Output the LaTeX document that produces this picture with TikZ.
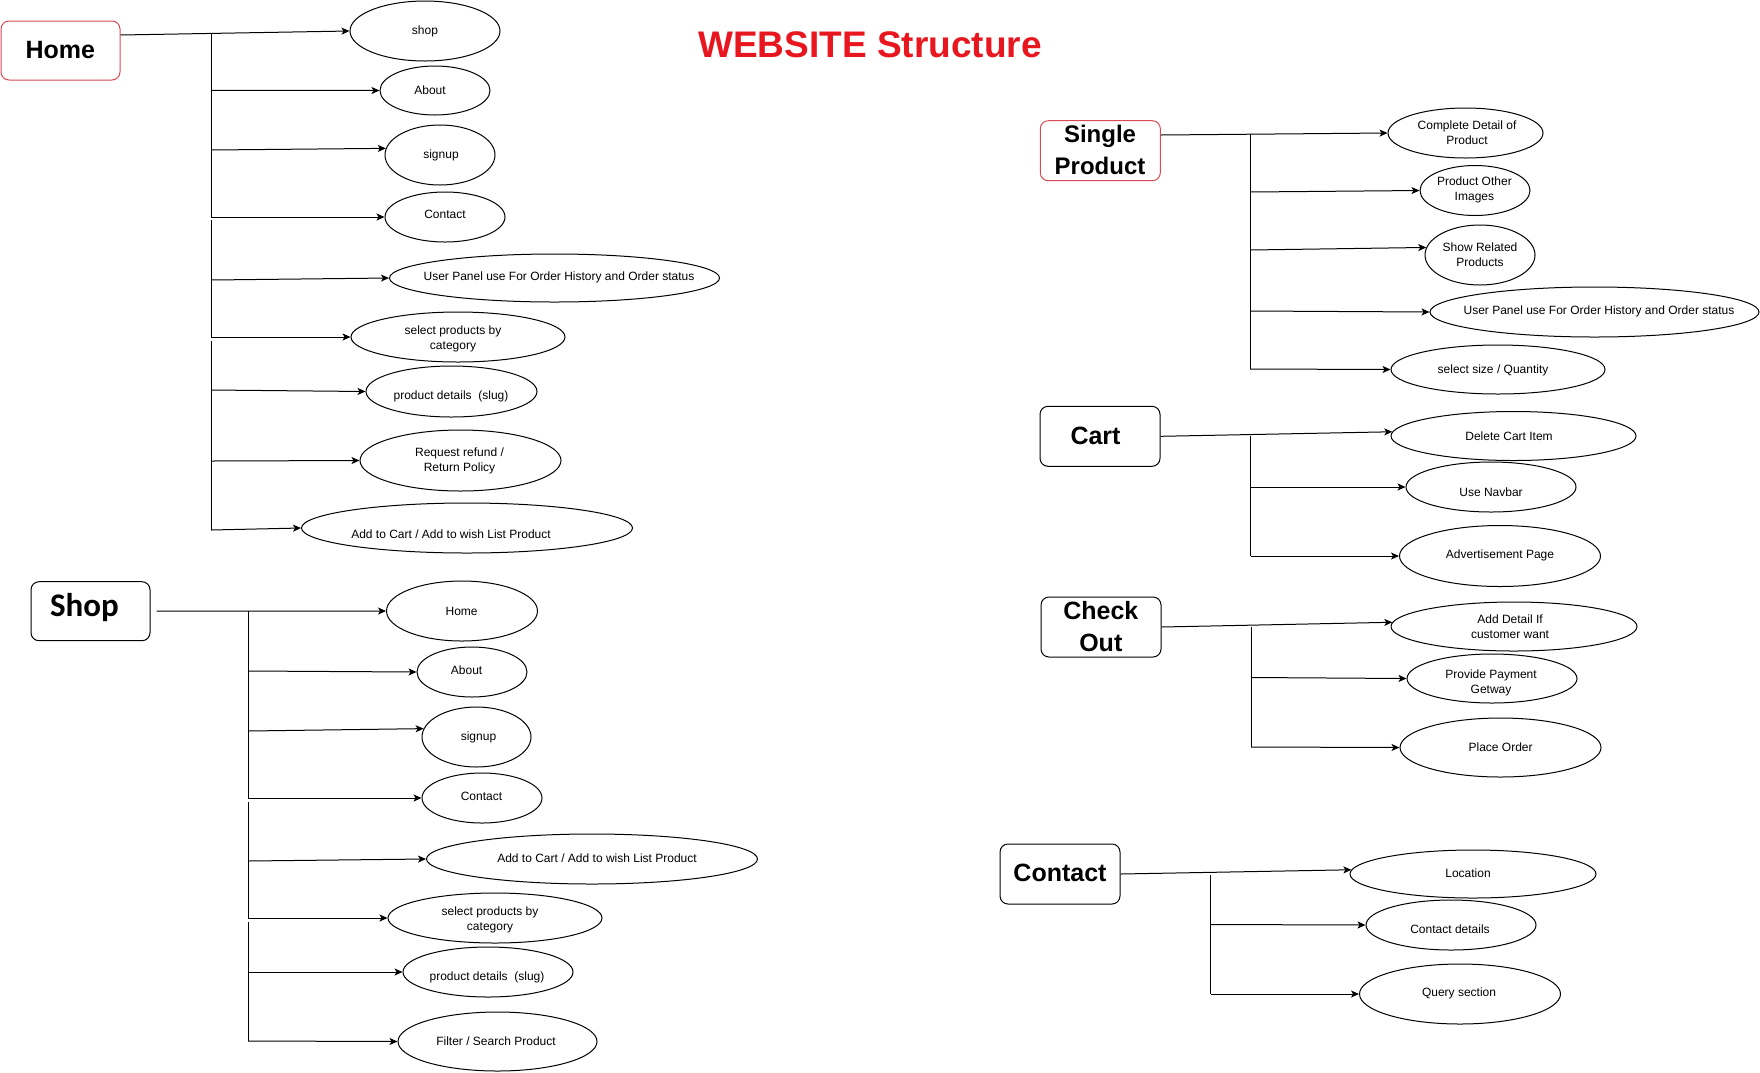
\documentclass[tikz,border=0pt]{standalone}
\usepackage{fontspec}
\setmainfont{Liberation Sans}
\newfontfamily\calibfont{Carlito}
\usetikzlibrary{shapes.geometric,arrows.meta}
\definecolor{titlered}{RGB}{232,22,30}
\definecolor{boxred}{RGB}{214,74,86}
\tikzset{
  ell/.style={draw, ellipse, inner sep=0pt, line width=1pt},
  lbl/.style={font=\fontsize{12}{15}\selectfont, align=center, inner sep=0pt},
  hbox/.style={draw, rounded corners=8pt, line width=1pt, inner sep=0pt},
  head/.style={font=\fontsize{25}{32}\selectfont\bfseries, align=center, inner sep=0pt},
  arr/.style={-{Stealth[length=8pt,width=7pt,inset=2pt]}, line width=1pt},
  trunk/.style={line width=1pt}
}
% name, cx, cy, w, h, tx, ty, text
\newcommand\mybubble[8]{%
  \node[ell, minimum width=#4pt, minimum height=#5pt] (#1) at (#2,#3) {};
  \node[lbl] (#1-t) at (#6,#7) {#8};}
% name, x, y, target anchor
\newcommand\mybranch[4]{%
  \coordinate (#1-s) at (#2,#3);
  \draw[arr] (#1-s) -- (#1.#4);}
\begin{document}
\begin{tikzpicture}[x=1pt,y=-1pt]
\useasboundingbox (0,0) rectangle (1760,1072);

% title
\node[font=\fontsize{37}{42}\selectfont\bfseries, text=titlered, anchor=base, inner sep=0pt] (title) at (870,57.7) {WEBSITE Structure};

% ================= HOME =================
\node[hbox, draw=boxred, minimum width=119pt, minimum height=59pt] (home) at (60.5,50.5) {};
\node[head] (home-t) at (60.4,49.7) {Home};
\mybubble{hshop}{425}{31}{150}{60}{425}{31}{shop}
\mybubble{habout}{435}{90.5}{110}{49}{430}{90}{About}
\mybubble{hsignup}{440}{155}{110}{60}{441}{155}{signup}
\mybubble{hcontact}{445}{217}{120}{50}{445}{214}{Contact}
\mybubble{huser}{554.5}{278}{330}{48}{559}{277}{User Panel use For Order History and Order status}
\mybubble{hselect}{458}{337}{214}{50}{453}{338.5}{select products by\\category}
\mybubble{hprod}{451.5}{391.5}{171}{51}{451}{396}{product details\ \ (slug)}
\mybubble{hrefund}{460.5}{460.5}{201}{61}{459.5}{460.5}{Request refund /\\Return Policy}
\mybubble{hcart}{467}{528}{331}{50}{451}{534}{Add to Cart / Add to wish List Product}

\draw[arr] ([yshift=15.5pt]home.east) -- (hshop.west);
\coordinate (hA) at (211,33);  \coordinate (hB) at (211,217);
\coordinate (hC) at (211,220); \coordinate (hD) at (211,337);
\coordinate (hE) at (211,341); \coordinate (hF) at (211,530);
\draw[trunk] (hA) -- (hB);
\draw[trunk] (hC) -- (hD);
\draw[trunk] (hE) -- (hF);
\mybranch{habout}{211}{90.3}{west}
\mybranch{hsignup}{211}{150}{173}
\mybranch{hcontact}{211}{217}{west}
\mybranch{huser}{211}{280}{west}
\mybranch{hselect}{211}{337}{west}
\mybranch{hprod}{211}{390}{west}
\mybranch{hrefund}{211}{461}{west}
\mybranch{hcart}{211}{530}{west}

% ================= SHOP =================
\node[hbox, minimum width=119pt, minimum height=59pt] (shop) at (90.5,611.2) {};
\node[font=\fontsize{33}{40}\selectfont\calibfont\bfseries, anchor=base, inner sep=0pt] (shop-t) at (84.5,616.7) {Shop};
\mybubble{shome}{462}{611}{151}{60}{461.6}{611}{Home}
\mybubble{sabout}{472}{672}{110}{50}{466.6}{670}{About}
\mybubble{ssignup}{476.5}{737}{109}{60}{478.5}{737}{signup}
\mybubble{scontact}{482}{798}{120}{50}{481.5}{796}{Contact}
\mybubble{scart}{592}{859}{331}{50}{597}{858}{Add to Cart / Add to wish List Product}
\mybubble{sselect}{495}{918}{214}{50}{490}{919.5}{select products by\\category}
\mybubble{sprod}{488}{972}{170}{50}{487}{977}{product details\ \ (slug)}
\mybubble{sfilter}{497.5}{1041.5}{199}{59}{496}{1041}{Filter / Search Product}

\draw[arr] ([xshift=6pt]shop.east) -- (shome.west);
\coordinate (sA) at (248,611);  \coordinate (sB) at (248,798);
\coordinate (sC) at (248,802);  \coordinate (sD) at (248,918);
\coordinate (sE) at (248,922);  \coordinate (sF) at (248,1041);
\draw[trunk] (sA) -- (sB);
\draw[trunk] (sC) -- (sD);
\draw[trunk] (sE) -- (sF);
\mybranch{sabout}{248}{671}{west}
\mybranch{ssignup}{248}{731}{171}
\mybranch{scontact}{248}{798}{west}
\mybranch{scart}{248}{861}{west}
\mybranch{sselect}{248}{918}{west}
\mybranch{sprod}{248}{972}{west}
\mybranch{sfilter}{248}{1041}{west}

% ================= SINGLE PRODUCT =================
\node[hbox, draw=boxred, minimum width=120pt, minimum height=60pt] (sp) at (1100.3,150.7) {};
\node[head, font=\fontsize{24}{32}\selectfont\bfseries] (sp-t) at (1100,149.5) {Single\\Product};
\mybubble{pcd}{1465.5}{133}{155}{50}{1467}{133.2}{Complete Detail of\\Product}
\mybubble{pimg}{1475}{190.5}{110}{50}{1474.4}{190.2}{Product Other\\Images}
\mybubble{prel}{1480}{255}{110}{60}{1480}{254.8}{Show Related\\Products}
\mybubble{puser}{1594.5}{312}{329}{50}{1599}{311.7}{User Panel use For Order History and Order status}
\mybubble{psize}{1498}{369.5}{214}{49}{1493}{370}{select size / Quantity}

\draw[arr] ([yshift=15.7pt]sp.east) -- (pcd.west);
\coordinate (pA) at (1250,133.5); \coordinate (pB) at (1250,369);
\draw[trunk] (pA) -- (pB);
\mybranch{pimg}{1250}{192}{west}
\mybranch{prel}{1250}{250}{172}
\mybranch{puser}{1250}{311}{west}
\mybranch{psize}{1250}{369}{west}

% ================= CART =================
\node[hbox, minimum width=120pt, minimum height=60pt] (cart) at (1100,436.3) {};
\node[head] (cart-t) at (1095.5,435.7) {Cart};
\mybubble{cdel}{1513.5}{436}{245}{49}{1509}{435.7}{Delete Cart Item}
\mybubble{cnav}{1491}{487}{170}{50}{1491}{491.7}{Use Navbar}
\mybubble{cadv}{1500}{556}{201}{61}{1500}{555.7}{Advertisement Page}

\draw[arr] (cart.east) -- (cdel.178);
\coordinate (cA) at (1250.5,436.3); \coordinate (cB) at (1250.5,556);
\draw[trunk] (cA) -- (cB);
\mybranch{cnav}{1250.5}{487}{west}
\mybranch{cadv}{1250.5}{556}{west}

% ================= CHECK OUT =================
\node[hbox, minimum width=120pt, minimum height=60pt] (co) at (1101,627) {};
\node[head] (co-t) at (1100.8,627) {Check\\Out};
\mybubble{oadd}{1514}{626.5}{246}{49}{1510}{626.5}{Add Detail If\\customer want}
\mybubble{opay}{1492}{678.5}{170}{49}{1491}{683}{Provide Payment\\Getway}
\mybubble{oplace}{1500.5}{747.5}{201}{59}{1500.6}{747}{Place Order}

\draw[arr] (co.east) -- (oadd.178);
\coordinate (oA) at (1251,627); \coordinate (oB) at (1251,747);
\draw[trunk] (oA) -- (oB);
\mybranch{opay}{1251}{677.5}{west}
\mybranch{oplace}{1251}{747}{west}

% ================= CONTACT =================
\node[hbox, minimum width=120pt, minimum height=60pt] (ct) at (1060,874) {};
\node[head] (ct-t) at (1060,873) {Contact};
\mybubble{kloc}{1473}{874}{246}{48}{1468}{873}{Location}
\mybubble{kdet}{1451}{925}{170}{50}{1450}{929}{Contact details}
\mybubble{kquery}{1460}{994}{201}{60}{1459}{993}{Query section}

\draw[arr] (ct.east) -- (kloc.178);
\coordinate (kA) at (1210.5,875); \coordinate (kB) at (1210.5,994);
\draw[trunk] (kA) -- (kB);
\mybranch{kdet}{1210.5}{924.5}{west}
\mybranch{kquery}{1210.5}{994}{west}
\end{tikzpicture}
\end{document}
